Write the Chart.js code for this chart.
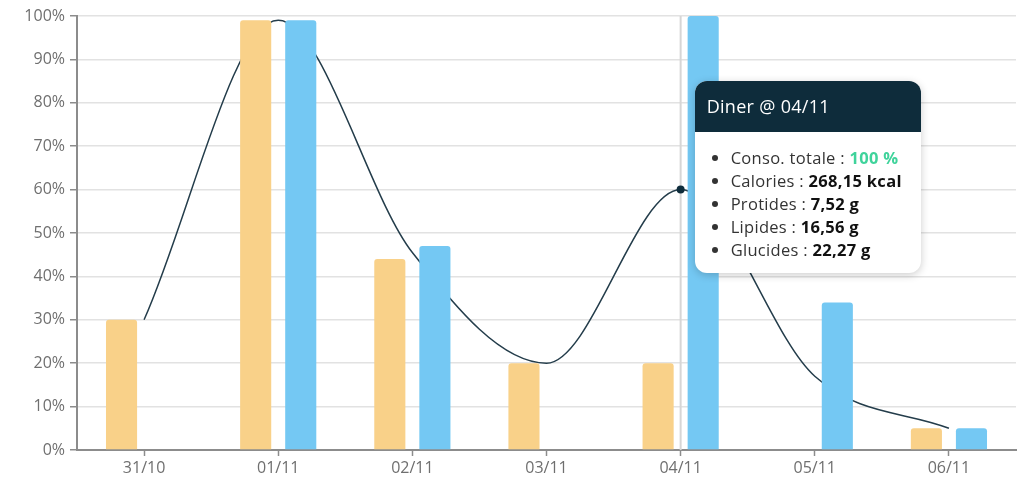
<!DOCTYPE html>
<html lang="fr">
<head>
<meta charset="utf-8">
<title>Consommation des repas</title>
<script src="https://cdn.jsdelivr.net/npm/chart.js@4"></script>
<style>
  html, body { margin: 0; padding: 0; background: #fff; }
  #wrap { position: relative; width: 1027px; height: 479px; }
  #tip {
    position: absolute; display: none; width: 226px;
    background: #fff; border-radius: 12px; overflow: hidden;
    box-shadow: 0 2px 9px rgba(0, 0, 0, 0.2);
    font-family: "Open Sans", sans-serif; pointer-events: none;
  }
  #tip .head {
    background: #0e2c3b; color: #fff; height: 51px; line-height: 51px;
    padding-left: 12px; font-size: 18px; letter-spacing: 0.3px;
  }
  #tip ul {
    margin: 0; padding: 14px 4px 12px 36px; list-style: disc;
    font-size: 16.5px; line-height: 23px; color: #333; white-space: nowrap;
    letter-spacing: 0.3px;
  }
  #tip b { color: #111; }
  #tip .ok { color: #3fd39b; font-weight: bold; }
</style>
</head>
<body>
<div id="wrap">
  <canvas id="mealChart" width="1027" height="479"></canvas>
  <div id="tip"></div>
</div>
<script>
const days = ['31/10', '01/11', '02/11', '03/11', '04/11', '05/11', '06/11'];
const lunch = [30, 99, 44, 20, 20, null, 5];       // Déjeuner, % consommé
const dinner = [null, 99, 47, null, 100, 34, 5];   // Diner, % consommé
const average = [30, 99, 45.5, 20, 60, 17, 5];     // moyenne de la journée
const yTicks = [0, 10, 20, 30, 40, 50, 60, 70, 80, 90, 100];

// details for the dinner tooltip (only 04/11 is opened)
const dinnerCalories = [null, null, null, null, 268.15, null, null];
const dinnerProtides = [null, null, null, null, 7.52, null, null];
const dinnerLipides = [null, null, null, null, 16.56, null, null];
const dinnerGlucides = [null, null, null, null, 22.27, null, null];

const hoverIndex = 4;

Chart.defaults.font.family = '"Open Sans", sans-serif';

const fr = v => v.toFixed(2).replace('.', ',');

// vertical guide behind the bars at the hovered day
const hoverLine = {
  id: 'hoverLine',
  beforeDatasetsDraw(chart) {
    const active = chart.tooltip.getActiveElements();
    if (!active.length) return;
    const x = chart.scales.x.getPixelForValue(active[0].index);
    const { top, bottom } = chart.chartArea;
    const ctx = chart.ctx;
    ctx.save();
    ctx.strokeStyle = '#d6d6d6';
    ctx.lineWidth = 2;
    ctx.beginPath();
    ctx.moveTo(x, top);
    ctx.lineTo(x, bottom);
    ctx.stroke();
    ctx.restore();
  }
};

function renderTip(context) {
  const tip = document.getElementById('tip');
  const tooltip = context.tooltip;
  if (tooltip.opacity === 0 || !tooltip.dataPoints) {
    tip.style.display = 'none';
    return;
  }
  const i = tooltip.dataPoints[0].dataIndex;
  const pt = context.chart.getDatasetMeta(2).data[i];
  tip.innerHTML =
    '<div class="head">Diner @ ' + days[i] + '</div><ul>' +
    '<li>Conso. totale : <span class="ok">' + dinner[i] + ' %</span></li>' +
    '<li>Calories : <b>' + fr(dinnerCalories[i]) + ' kcal</b></li>' +
    '<li>Protides : <b>' + fr(dinnerProtides[i]) + ' g</b></li>' +
    '<li>Lipides : <b>' + fr(dinnerLipides[i]) + ' g</b></li>' +
    '<li>Glucides : <b>' + fr(dinnerGlucides[i]) + ' g</b></li></ul>';
  tip.style.display = 'block';
  tip.style.left = (pt.x + 14) + 'px';
  tip.style.top = (pt.y - 109) + 'px';
}

const ctx = document.getElementById('mealChart').getContext('2d');
const chart = new Chart(ctx, {
  data: {
    labels: days,
    datasets: [
      {
        type: 'bar',
        label: 'Déjeuner',
        data: lunch,
        backgroundColor: '#f9d189',
        hoverBackgroundColor: '#f9d189',
        borderRadius: { topLeft: 3, topRight: 3 },
        borderSkipped: 'bottom',
        categoryPercentage: 0.672,
        barPercentage: 0.69,
        order: 1
      },
      {
        type: 'bar',
        label: 'Diner',
        data: dinner,
        backgroundColor: '#74c8f3',
        hoverBackgroundColor: '#74c8f3',
        borderRadius: { topLeft: 3, topRight: 3 },
        borderSkipped: 'bottom',
        categoryPercentage: 0.672,
        barPercentage: 0.69,
        order: 1
      },
      {
        type: 'line',
        label: 'Moyenne',
        data: average,
        borderColor: '#243d4b',
        borderWidth: 1.5,
        cubicInterpolationMode: 'monotone',
        pointRadius: 0,
        pointHoverRadius: 4,
        pointHoverBorderWidth: 0,
        pointBackgroundColor: '#0e2c3b',
        pointHoverBackgroundColor: '#0e2c3b',
        order: 2
      }
    ]
  },
  options: {
    responsive: false,
    animation: false,
    events: [],
    layout: { padding: { top: 16, right: 11, left: 0, bottom: 0 } },
    plugins: {
      legend: { display: false },
      tooltip: { enabled: false, external: renderTip }
    },
    scales: {
      x: {
        grid: { offset: false, drawOnChartArea: false, tickLength: 6, tickColor: '#8c8c8c', tickWidth: 1.5 },
        border: { color: '#8c8c8c', width: 2 },
        ticks: { color: '#6f6f6f', font: { size: 16 }, padding: 3 },
        afterFit(scale) { scale.height = 29; }
      },
      y: {
        min: 0,
        max: 100,
        afterBuildTicks(scale) { scale.ticks = yTicks.map(v => ({ value: v })); },
        grid: { color: '#e2e2e2', lineWidth: 1.5, tickLength: 7, tickColor: '#8c8c8c' },
        border: { color: '#8c8c8c', width: 2 },
        ticks: { color: '#6f6f6f', font: { size: 16 }, padding: 5, callback: v => v + '%' },
        afterFit(scale) { scale.width = 77; }
      }
    }
  },
  plugins: [hoverLine]
});

const linePt = chart.getDatasetMeta(2).data[hoverIndex];
chart.setActiveElements([{ datasetIndex: 2, index: hoverIndex }]);
chart.tooltip.setActiveElements([{ datasetIndex: 1, index: hoverIndex }], { x: linePt.x, y: linePt.y });
chart.update();
</script>
</body>
</html>
